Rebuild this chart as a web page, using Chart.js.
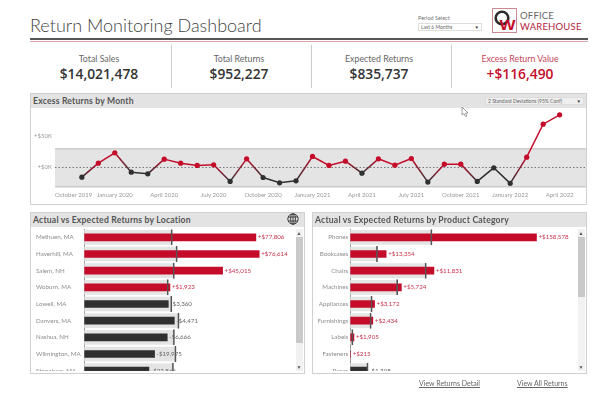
<!DOCTYPE html>
<html>
<head>
<meta charset="utf-8">
<title>Return Monitoring Dashboard</title>
<script src="https://cdn.jsdelivr.net/npm/chart.js@4/dist/chart.umd.min.js"></script>
<style>
    html, body { margin: 0; padding: 0; background: #fff; }
    body { width: 600px; height: 402px; position: relative; overflow: hidden; font-family: Lato, sans-serif; color: #555; }
    .abs { position: absolute; }
    .title { left: 30px; top: 14px; font-size: 18px; font-weight: 300; color: #444; white-space: nowrap; }
    .rule1 { left: 30px; width: 558px; top: 38px; height: 1.5px; background: #555; }
    .rule2 { left: 30px; width: 558px; top: 41px; height: 1px; background: #dba4ac; }
    .kpi { top: 53px; width: 140px; text-align: center; }
    .kpi .name { font-size: 8.8px; color: #666; line-height: 12px; }
    .kpi .val { font-size: 13.8px; color: #333; line-height: 17px; font-family: "Open Sans", sans-serif; font-weight: 600; }
    .kpi.red .name { color: #c4455a; }
    .kpi.red .val { color: #c40c2a; }
    .divider { top: 45px; height: 43px; width: 1px; background: #ccc; }
    .panel { border: 1px solid #d0d0d0; box-sizing: border-box; background: #fff; }
    .head { left: 0; right: 0; top: 0; height: 14px; background: #e3e3e3; font-size: 8.6px; font-weight: 700; color: #555; line-height: 14px; padding-left: 2px; letter-spacing: .2px; white-space: nowrap; }
    .select { border: 1px solid #ddd; background: #fff; font-size: 5px; color: #666; box-sizing: border-box; padding-left: 2px; white-space: nowrap; }
    .select span { position: absolute; right: 2px; top: 0; font-size: 4.5px; color: #333; }
    .track { background: #f1f1f1; }
    .thumb { background: #c9c9c9; }
    .arrow { font-size: 5px; color: #555; text-align: center; width: 8px; line-height: 6px; }
    .clip { overflow: hidden; }
    canvas { display: block; }
    a.link { font-size: 7px; color: #666; text-decoration: underline; white-space: nowrap; }
</style>
</head>
<body>
<div class="abs title">Return Monitoring Dashboard</div>
<div class="abs" style="left:418px;top:15px;font-size:5.5px;color:#777">Period Select</div>
<div class="abs select" style="left:418px;top:23px;width:64px;height:8px;line-height:7px">Last 6 Months<span>▼</span></div>

<svg class="abs" style="left:492px;top:8px" width="96" height="26" viewBox="0 0 96 26">
    <rect x="0.5" y="0.5" width="24" height="24" fill="#fff" stroke="#c98a94"/>
    <circle cx="10" cy="10" r="6.3" fill="none" stroke="#2c2c2c" stroke-width="2.6"/>
    <text x="7.5" y="22" font-family="Liberation Sans" font-weight="700" font-size="15" fill="#c40c2a" textLength="16" lengthAdjust="spacingAndGlyphs">W</text>
    <text x="28" y="11" font-family="Lato" font-size="9.5" fill="#666" letter-spacing=".2">OFFICE</text>
    <text x="28" y="22" font-family="Lato" font-size="9.5" fill="#b5233a" letter-spacing=".2">WAREHOUSE</text>
</svg>

<div class="abs rule1"></div>
<div class="abs rule2"></div>

<div class="abs kpi" style="left:29px"><div class="name">Total Sales</div><div class="val">$14,021,478</div></div>
<div class="abs kpi" style="left:169px"><div class="name">Total Returns</div><div class="val">$952,227</div></div>
<div class="abs kpi" style="left:309px"><div class="name">Expected Returns</div><div class="val">$835,737</div></div>
<div class="abs kpi red" style="left:450px"><div class="name">Excess Return Value</div><div class="val">+$116,490</div></div>
<div class="abs divider" style="left:171px"></div>
<div class="abs divider" style="left:311px"></div>
<div class="abs divider" style="left:451px"></div>

<!-- monthly panel -->
<div class="abs panel" style="left:30px;top:93px;width:557px;height:112px">
    <div class="abs head">Excess Returns by Month</div>
</div>
<div class="abs" style="left:31px;top:107px"><canvas id="monthChart" width="555" height="97" style="width:555px;height:97px"></canvas></div>
<div class="abs select" style="left:485px;top:97px;width:99px;height:8px;line-height:7px;background:#eee">2 Standard Deviations (95% Conf)<span>▼</span></div>
<svg class="abs" style="left:461px;top:106px" width="8" height="12" viewBox="0 0 8 12"><path d="M1 1 L1 9 L3 7.5 L4.5 10.5 L6 10 L4.5 7 L7 7 Z" fill="#fff" stroke="#888" stroke-width=".8"/></svg>

<!-- location panel -->
<div class="abs panel" style="left:30px;top:212px;width:275px;height:162px">
    <div class="abs head">Actual vs Expected Returns by Location</div>
</div>
<svg class="abs" style="left:287px;top:213px" width="12" height="12" viewBox="0 0 12 12" fill="none" stroke="#333" stroke-width=".9">
    <circle cx="6" cy="6" r="5.2"/><ellipse cx="6" cy="6" rx="2.4" ry="5.2"/><path d="M6 .8V11.2M1 4H11M1 8H11"/>
</svg>
<div class="abs clip" style="left:36px;top:228px;width:260px;height:143px"><canvas id="locationChart" width="260" height="151" style="width:260px;height:151px"></canvas></div>
<div class="abs track" style="left:296px;top:229px;width:7px;height:142px"></div>
<div class="abs thumb" style="left:296px;top:237px;width:7px;height:106px"></div>
<div class="abs arrow" style="left:295px;top:230px">▲</div>
<div class="abs arrow" style="left:295px;top:364px">▼</div>

<!-- category panel -->
<div class="abs panel" style="left:312px;top:212px;width:275px;height:162px">
    <div class="abs head">Actual vs Expected Returns by Product Category</div>
</div>
<div class="abs clip" style="left:315px;top:228px;width:262px;height:143px"><canvas id="categoryChart" width="262" height="151" style="width:262px;height:151px"></canvas></div>
<div class="abs track" style="left:578px;top:229px;width:7px;height:142px"></div>
<div class="abs thumb" style="left:578px;top:237px;width:7px;height:60px"></div>
<div class="abs arrow" style="left:577px;top:230px">▲</div>
<div class="abs arrow" style="left:577px;top:364px">▼</div>

<a class="abs link" style="left:419px;top:379px">View Returns Detail</a>
<a class="abs link" style="left:517px;top:379px">View All Returns</a>

<script>
    const RED = '#c40c2a';
    const DARK = '#303030';

    // November 2019 .. April 2022, in $K
    const excessValues = [-15.3, 6.8, 23.2, -7.4, -10, 13.2, 6.8, 3.2, 4.2, -22, 13.7, -15.8, -24.2, -21,
        17.4, 3.2, 10, -9, 13.7, 3.7, 14.2, -23, 5.3, 5.3, -22, -0.5, -25, 16.3, 68.4, 83.2];
    const monthTickLabels = ['October 2019', 'January 2020', 'April 2020', 'July 2020', 'October 2020', 'January 2021',
        'April 2021', 'July 2021', 'October 2021', 'January 2022', 'April 2022'];
    const monthTickIndex = [0.5, 3, 6, 9, 12, 15, 18, 21, 24, 27, 30];
    const bandHigh = 29.5;
    const bandLow = -29.7;

    const locationNames = ['Methuen, MA', 'Haverhill, MA', 'Salem, NH', 'Woburn, MA', 'Lowell, MA', 'Danvers, MA', 'Nashua, NH', 'Wilmington, MA', 'Stoneham, MA'];
    const locationActual = [159.9, 163, 128.9, 79.8, 78.3, 83.9, 77.3, 65.5, 60.2];
    const locationExpected = [82, 86.6, 83.9, 78.3, 81.6, 88.3, 84, 85.5, 83.1];
    const locationText = ['+$77,806', '+$76,614', '+$45,015', '+$1,923', '-$3,360', '-$4,471', '-$6,666', '-$19,975', '-$22,866'];

    const categoryNames = ['Phones', 'Bookcases', 'Chairs', 'Machines', 'Appliances', 'Furnishings', 'Labels', 'Fasteners', 'Paper'];
    const categoryActual = [282.5, 54.4, 126.9, 77.5, 36.8, 34.2, 5.5, 0.5, 25.7];
    const categoryExpected = [123.9, 41.3, 115.3, 72, 33.2, 31.7, 4, 0.3, 27];
    const categoryText = ['+$158,578', '+$13,354', '+$11,831', '+$5,724', '+$3,172', '+$2,434', '+$1,905', '+$215', '-$1,308'];

    Chart.defaults.animation = false;
    Chart.defaults.font.family = 'Lato, sans-serif';

    const xMin = -0.63;
    const xMax = 31.6;

    // 渡り部分は赤と黒のグラデーション
    function segmentColor(ctx) {
        const a = ctx.p0.parsed.y > 0 ? RED : DARK;
        const b = ctx.p1.parsed.y > 0 ? RED : DARK;
        if (a === b) return a;
        const g = ctx.chart.ctx.createLinearGradient(ctx.p0.x, ctx.p0.y, ctx.p1.x, ctx.p1.y);
        g.addColorStop(0, a);
        g.addColorStop(1, b);
        return g;
    }

    function flatLine(y) {
        return [{ x: xMin, y: y }, { x: xMax, y: y }];
    }

    // ラベル分の余白を消してプロット領域を固定する
    function noPadding(scale) {
        scale.paddingTop = 0;
        scale.paddingBottom = 0;
        scale.paddingLeft = 0;
        scale.paddingRight = 0;
    }

    new Chart(document.getElementById('monthChart').getContext('2d'), {
        type: 'line',
        data: {
            datasets: [
                {
                    data: excessValues.map((v, i) => ({ x: i + 1, y: v })),
                    borderWidth: 1.5,
                    pointRadius: 2.6,
                    pointBorderWidth: 0,
                    pointBackgroundColor: excessValues.map(v => v > 0 ? RED : DARK),
                    segment: { borderColor: segmentColor },
                    tension: 0
                },
                { data: flatLine(0), borderColor: '#777', borderWidth: 1, borderDash: [1.5, 2], pointRadius: 0 },
                { data: flatLine(bandHigh), borderColor: '#bdbdbd', borderWidth: 1, pointRadius: 0, fill: '+1', backgroundColor: '#e4e4e4' },
                { data: flatLine(bandLow), borderColor: '#c9c9c9', borderWidth: 2.5, pointRadius: 0, clip: false }
            ]
        },
        options: {
            responsive: false,
            layout: { padding: 0, autoPadding: false },
            plugins: { legend: { display: false }, tooltip: { enabled: false } },
            scales: {
                x: {
                    type: 'linear',
                    min: xMin,
                    max: xMax,
                    grid: { display: false, drawTicks: false },
                    border: { display: false },
                    afterBuildTicks: scale => { scale.ticks = monthTickIndex.map(v => ({ value: v })); },
                    afterFit: scale => { scale.height = 17.5; noPadding(scale); },
                    ticks: {
                        autoSkip: false,
                        maxRotation: 0,
                        padding: 5,
                        color: '#999',
                        font: { size: 6 },
                        callback: (v) => monthTickLabels[monthTickIndex.indexOf(v)]
                    }
                },
                y: {
                    min: -30,
                    max: 95.5,
                    grid: { display: false, drawTicks: false },
                    border: { display: false },
                    afterBuildTicks: scale => { scale.ticks = [{ value: 0 }, { value: 50 }]; },
                    afterFit: scale => { scale.width = 24; noPadding(scale); },
                    ticks: { padding: 3, color: '#999', font: { size: 6 }, callback: v => '+$' + v + 'K' }
                }
            }
        }
    });

    // 実績バーの右に差額を表示
    function barLabels(texts) {
        return {
            id: 'barLabels',
            afterDatasetsDraw(chart) {
                const c = chart.ctx;
                const bars = chart.getDatasetMeta(1).data;
                c.save();
                c.font = '6.2px Lato, sans-serif';
                c.textBaseline = 'middle';
                bars.forEach((bar, i) => {
                    c.fillStyle = texts[i][0] === '+' ? '#c8334b' : '#666';
                    c.fillText(texts[i], bar.x + 2, bar.y);
                });
                c.restore();
            }
        };
    }

    function bulletChart(id, names, actual, expected, texts, maxValue, axisWidth, crossAlign) {
        return new Chart(document.getElementById(id).getContext('2d'), {
            type: 'bar',
            data: {
                labels: names,
                datasets: [
                    { data: expected, backgroundColor: '#e4e4e4', barThickness: 14, order: 2 },
                    { data: actual, backgroundColor: actual.map((v, i) => v > expected[i] ? RED : DARK), barThickness: 7, order: 1 },
                    // 期待値の目盛り線
                    { data: expected, backgroundColor: 'transparent', borderColor: '#555', borderWidth: { top: 0, right: 1, bottom: 0, left: 0 }, borderSkipped: false, barThickness: 16, order: 0 }
                ]
            },
            options: {
                indexAxis: 'y',
                responsive: false,
                grouped: false,
                layout: { padding: { top: 1 }, autoPadding: false },
                plugins: { legend: { display: false }, tooltip: { enabled: false } },
                scales: {
                    x: { display: false, min: 0, max: maxValue, afterFit: noPadding },
                    y: {
                        grid: { display: false, drawTicks: false },
                        border: { color: '#999', width: 1 },
                        afterFit: scale => { scale.width = axisWidth; noPadding(scale); },
                        ticks: { padding: 2, color: '#8c8c8c', crossAlign: crossAlign, autoSkip: false, font: { size: 6.2 } }
                    }
                }
            },
            plugins: [barLabels(texts)]
        });
    }

    bulletChart('locationChart', locationNames, locationActual, locationExpected, locationText, 197.3, 48.3, 'far');
    bulletChart('categoryChart', categoryNames, categoryActual, categoryExpected, categoryText, 344, 35.3, 'near');
</script>
</body>
</html>
